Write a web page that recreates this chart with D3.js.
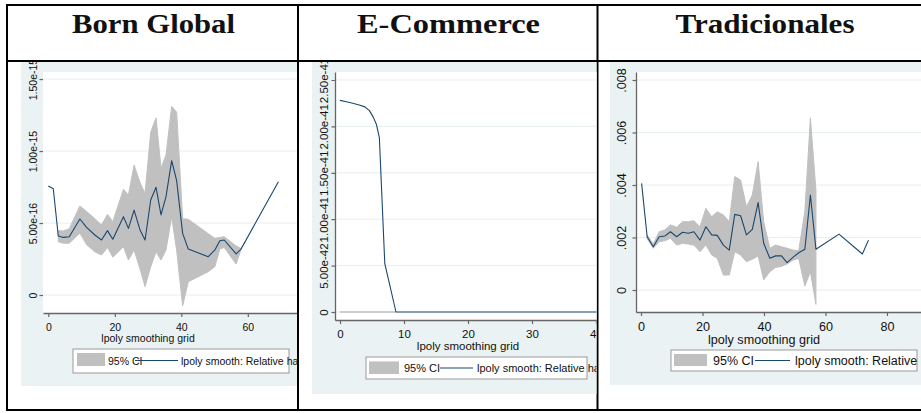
<!DOCTYPE html>
<html>
<head>
<meta charset="utf-8">
<script src="https://cdn.jsdelivr.net/npm/d3@7/dist/d3.min.js"></script>
<style>
  html, body { margin: 0; padding: 0; background: #fff; }
  svg { display: block; }
</style>
</head>
<body>
<svg id="chart" width="921" height="413"></svg>
<script>
// ---- Column headers ----
const headers = ["Born Global", "E-Commerce", "Tradicionales"];

// ---- Born Global: lpoly smooth (values in units of 1e-16) ----
const bgGrid = [0, 1.5, 3, 4.5, 6.3, 9.5, 11.5, 14, 16, 17.8, 19.4, 22.6, 24.1, 25.8, 27.6, 29.1,
                30.8, 32.4, 33.9, 35.4, 37.1, 38.6, 40.4, 42.1, 48.1, 50.1, 51.6, 52.9, 56.5, 57.9, 69.2];
const bgFit  = [7.57, 7.38, 4.1, 4.0, 4.05, 5.28, 4.7, 4.17, 3.82, 4.47, 3.87, 5.44, 4.63, 5.9, 4.51, 3.82,
                6.6, 7.48, 5.56, 6.83, 9.33, 7.94, 4.28, 3.19, 2.66, 3.13, 3.77, 3.82, 2.85, 3.17, 7.87];
const bgCiX  = [3, 4.5, 6.3, 9.5, 11.5, 14, 16, 17.8, 19.4, 22.6, 24.1, 25.8, 27.6, 29.1,
                30.8, 32.4, 33.9, 35.4, 37.1, 38.6, 40.4, 42.1, 48.1, 50.1, 51.6, 52.9, 56.5, 57.9];
const bgLo   = [3.7, 3.6, 3.6, 4.3, 3.5, 3.0, 2.78, 3.3, 2.62, 3.35, 2.43, 3.13, 1.8, 0.58,
                1.97, 3.0, 2.43, 3.13, 5.44, 3.1, -0.76, 0.92, 1.62, 1.97, 3.2, 3.3, 2.15, 3.13];
const bgHi   = [4.47, 4.45, 4.6, 6.18, 5.8, 5.3, 4.86, 5.6, 5.09, 7.34, 6.94, 9.03, 7.8, 7.06,
                11.3, 12.3, 8.8, 9.72, 13.1, 12.7, 5.3, 5.26, 4.26, 3.94, 4.0, 4.05, 3.4, 3.24];
const bgXTicks = [0, 20, 40, 60];
const bgYTicks = [0, 5, 10, 15];
const bgYLabels = ["0", "5.00e-16", "1.00e-15", "1.50e-15"];

// ---- E-Commerce: lpoly smooth (values in units of 1e-41) ----
const ecGrid = [0, 1, 2, 3, 3.9, 4.6, 5.2, 5.7, 6.15, 7.0, 8.75, 15, 20, 25, 30, 35, 40, 45];
const ecFit  = [2.28, 2.265, 2.25, 2.23, 2.21, 2.17, 2.10, 2.02, 1.88, 0.52, 0, 0, 0, 0, 0, 0, 0, 0];
const ecCiX  = [0, 8.75];
const ecLo   = [0, 0];
const ecHi   = [0, 0];
const ecXTicks = [0, 10, 20, 30, 40];
const ecYTicks = [0, 0.5, 1, 1.5, 2, 2.5];
const ecYLabels = ["0", "5.00e-42", "1.00e-41", "1.50e-41", "2.00e-41", "2.50e-41"];

// ---- Tradicionales: lpoly smooth (values in units of 1e-3) ----
const trGrid = [0.2, 2.0, 4.0, 5.9, 7.8, 9.6, 11.6, 13.5, 15.4, 17.2, 19.2, 21.1, 23.0, 24.8, 26.8, 28.7,
                30.5, 32.4, 34.3, 36.2, 38.1, 39.9, 41.9, 43.8, 45.7, 47.5, 49.5, 51.3, 53.3, 55.1, 56.9,
                64.4, 72, 74];
const trFit  = [4.06, 2.03, 1.65, 2.03, 2.06, 2.22, 2.03, 2.2, 2.16, 2.22, 1.9, 2.41, 2.1, 2.08, 1.71, 1.52,
                2.88, 2.83, 2.1, 2.31, 3.33, 1.78, 1.21, 1.3, 1.3, 1.04, 1.25, 1.42, 1.55, 3.62, 1.55,
                2.13, 1.37, 1.9];
const trCiX  = [2.0, 4.0, 5.9, 7.8, 9.6, 11.6, 13.5, 15.4, 17.2, 19.2, 21.1, 23.0, 24.8, 26.8, 28.7,
                30.5, 32.4, 34.3, 36.2, 38.1, 39.9, 41.9, 43.8, 45.7, 47.5, 49.5, 51.3, 53.3, 55.1, 56.9];
const trLo   = [1.95, 1.59, 1.84, 1.88, 1.97, 1.71, 1.78, 1.75, 1.71, 1.46, 1.71, 1.33, 1.21, 0.57, 0.57,
                1.46, 1.33, 1.08, 1.17, 1.3, 0.38, 0.7, 0.86, 0.9, 0.99, 1.14, 1.2, 0.15, 0.7, -0.55];
const trHi   = [2.1, 1.75, 2.22, 2.29, 2.48, 2.39, 2.6, 2.6, 2.64, 2.41, 3.11, 2.79, 2.98, 2.86, 2.6,
                4.32, 4.19, 3.17, 3.62, 4.89, 2.6, 1.59, 1.71, 1.65, 1.59, 1.52, 1.5, 3.0, 6.56, 3.8];
const trXTicks = [0, 20, 40, 60, 80];
const trYTicks = [0, 2, 4, 6, 8];
const trYLabels = ["0", ".002", ".004", ".006", ".008"];

// ---- Legend / axis texts ----
const xTitle = "lpoly smoothing grid";
const legendCi = "95% CI";
const legendFit = "lpoly smooth: Relative hazard";

// ---- Styles ----
const SANS = "'Liberation Sans', Arial, sans-serif";
const SERIF = "'Liberation Serif', 'Times New Roman', serif";
const BG = "#eaf2f3";
const GRID = "#e6eef0";
const BAND = "#c0c0c0";
const LINE = "#1a476f";
const AXIS = "#666";

const svg = d3.select("#chart");
const defs = svg.append("defs");

// ---- Table frame ----
const frame = svg.append("g").attr("stroke", "#000").attr("stroke-width", 2);
frame.append("line").attr("x1", 6).attr("x2", 921).attr("y1", 5).attr("y2", 5);
frame.append("line").attr("x1", 6).attr("x2", 921).attr("y1", 61).attr("y2", 61);
frame.append("line").attr("x1", 6).attr("x2", 921).attr("y1", 410).attr("y2", 410);
frame.append("line").attr("x1", 7).attr("x2", 7).attr("y1", 4).attr("y2", 411);
frame.append("line").attr("x1", 298).attr("x2", 298).attr("y1", 4).attr("y2", 411);
frame.append("line").attr("x1", 597.5).attr("x2", 597.5).attr("y1", 4).attr("y2", 411);

// ---- Headers ----
const headerPos = [{cx: 153.5, len: 163}, {cx: 448.5, len: 183}, {cx: 765, len: 179}];
headers.forEach((h, i) => {
  svg.append("text")
    .attr("x", headerPos[i].cx).attr("y", 33)
    .attr("text-anchor", "middle")
    .attr("font-family", SERIF).attr("font-weight", "bold").attr("font-size", 28)
    .attr("textLength", headerPos[i].len).attr("lengthAdjust", "spacingAndGlyphs")
    .attr("fill", "#111")
    .text(h);
});

function toPoints(xs, ys) { return xs.map((x, i) => ({x, y: ys[i]})); }
function toBand(xs, lo, hi) { return xs.map((x, i) => ({x, lo: lo[i], hi: hi[i]})); }

function drawPanel(cfg) {
  defs.append("clipPath").attr("id", cfg.id)
    .append("rect").attr("x", cfg.cell[0]).attr("y", cfg.cell[1])
    .attr("width", cfg.cell[2] - cfg.cell[0]).attr("height", cfg.cell[3] - cfg.cell[1]);
  const g = svg.append("g").attr("clip-path", `url(#${cfg.id})`);

  // graph region and plot region
  g.append("rect").attr("x", cfg.bg[0]).attr("y", cfg.bg[1])
    .attr("width", cfg.bg[2] - cfg.bg[0]).attr("height", cfg.bg[3] - cfg.bg[1]).attr("fill", BG);
  const p = cfg.plot;
  g.append("rect").attr("x", p.left).attr("y", p.top)
    .attr("width", p.right - p.left).attr("height", p.bottom - p.top).attr("fill", "#fff");

  const x = d3.scaleLinear().domain(cfg.xDomain).range([p.left, p.right]);
  const y = d3.scaleLinear().domain(cfg.yDomain).range([p.bottom, p.top]);

  // horizontal gridlines
  g.append("g").selectAll("line").data(cfg.yTicks).join("line")
    .attr("x1", p.left).attr("x2", p.right)
    .attr("y1", d => y(d)).attr("y2", d => y(d))
    .attr("stroke", GRID).attr("stroke-width", 1);

  // confidence band
  const band = toBand(cfg.ciX, cfg.lo, cfg.hi);
  g.append("path").datum(band)
    .attr("d", d3.area().x(d => x(d.x)).y0(d => y(d.lo)).y1(d => y(d.hi)))
    .attr("fill", BAND).attr("stroke", BAND).attr("stroke-width", 1);

  // smooth line
  g.append("path").datum(toPoints(cfg.grid, cfg.fit))
    .attr("d", d3.line().x(d => x(d.x)).y(d => y(d.y)))
    .attr("fill", "none").attr("stroke", LINE).attr("stroke-width", 1.1)
    .attr("stroke-linejoin", "round");

  // x axis
  const xa = g.append("g").attr("transform", `translate(0,${p.bottom})`)
    .call(d3.axisBottom(x).tickValues(cfg.xTicks).tickFormat(d3.format("d")).tickSize(4).tickSizeOuter(0));
  xa.select(".domain").attr("stroke", AXIS).attr("stroke-width", 1.3);
  xa.selectAll(".tick line").attr("stroke", AXIS).attr("stroke-width", 1.2);
  xa.selectAll(".tick text").attr("y", cfg.xLabelOffset).attr("dy", null)
    .attr("font-family", SANS).attr("font-size", cfg.font).attr("fill", "#111");

  // y axis
  const ya = g.append("g").attr("transform", `translate(${p.left},0)`)
    .call(d3.axisLeft(y).tickValues(cfg.yTicks).tickFormat((d, i) => cfg.yLabels[i]).tickSize(3.5).tickSizeOuter(0));
  ya.select(".domain").attr("stroke", cfg.yLine ? AXIS : "none").attr("stroke-width", 1.3);
  ya.selectAll(".tick line").attr("stroke", AXIS).attr("stroke-width", 1.2);
  ya.selectAll(".tick text")
    .attr("transform", "rotate(-90)")
    .attr("x", 0).attr("y", -cfg.yLabelGap).attr("dy", null)
    .attr("text-anchor", "middle")
    .attr("font-family", SANS).attr("font-size", cfg.font).attr("fill", "#111");

  // x axis title
  g.append("text").attr("x", (x(cfg.xTicks[0]) + x(cfg.xTicks[cfg.xTicks.length - 1])) / 2)
    .attr("y", cfg.titleY).attr("text-anchor", "middle")
    .attr("font-family", SANS).attr("font-size", cfg.font).attr("fill", "#111")
    .text(xTitle);

  // legend
  const L = cfg.legend;
  g.append("rect").attr("x", L.box[0]).attr("y", L.box[1])
    .attr("width", L.box[2] - L.box[0]).attr("height", L.box[3] - L.box[1])
    .attr("fill", "#fff").attr("stroke", "#9a9a9a").attr("stroke-width", 1);
  g.append("rect").attr("x", L.swatch[0]).attr("y", L.swatch[1])
    .attr("width", L.swatch[2] - L.swatch[0]).attr("height", L.swatch[3] - L.swatch[1])
    .attr("fill", BAND);
  g.append("text").attr("x", L.ciText).attr("y", L.baseline)
    .attr("font-family", SANS).attr("font-size", L.font).attr("fill", "#111").text(legendCi);
  g.append("line").attr("x1", L.line[0]).attr("x2", L.line[1])
    .attr("y1", L.lineY).attr("y2", L.lineY).attr("stroke", LINE).attr("stroke-width", 1.1);
  g.append("text").attr("x", L.fitText).attr("y", L.baseline)
    .attr("font-family", SANS).attr("font-size", L.font).attr("fill", "#111").text(legendFit);
}

drawPanel({
  id: "clipBG", cell: [8, 62, 297, 409], bg: [21, 62, 310, 386],
  plot: {left: 43, top: 72, right: 305, bottom: 313},
  xDomain: [-1.594, 77.2], yDomain: [-1.25, 15.49],
  grid: bgGrid, fit: bgFit, ciX: bgCiX, lo: bgLo, hi: bgHi,
  xTicks: bgXTicks, yTicks: bgYTicks, yLabels: bgYLabels, yLine: false,
  font: 10.5, xLabelOffset: 17.5, yLabelGap: 6, titleY: 341.5,
  legend: {box: [73, 349, 289, 373], swatch: [77, 353, 105, 366], ciText: 108, line: [135, 178], lineY: 360.5,
           fitText: 181, baseline: 364.5, font: 10.5}
});

drawPanel({
  id: "clipEC", cell: [299, 62, 596.5, 409], bg: [312, 62, 600, 394],
  plot: {left: 335, top: 72, right: 600, bottom: 320},
  xDomain: [-0.78, 40.625], yDomain: [-0.0862, 2.586],
  grid: ecGrid, fit: ecFit, ciX: ecCiX, lo: ecLo, hi: ecHi,
  xTicks: ecXTicks, yTicks: ecYTicks, yLabels: ecYLabels, yLine: true,
  font: 11.5, xLabelOffset: 17.8, yLabelGap: 7, titleY: 349.5,
  legend: {box: [366, 357, 587, 379], swatch: [369, 361.5, 399, 374], ciText: 404, line: [440, 473], lineY: 368,
           fitText: 477, baseline: 372, font: 11}
});

drawPanel({
  id: "clipTR", cell: [599, 62, 921, 409], bg: [610, 62, 930, 385],
  plot: {left: 636, top: 72, right: 930, bottom: 312},
  xDomain: [-1.626, 94], yDomain: [-0.838, 8.305],
  grid: trGrid, fit: trFit, ciX: trCiX, lo: trLo, hi: trHi,
  xTicks: trXTicks, yTicks: trYTicks, yLabels: trYLabels, yLine: true,
  font: 12.6, xLabelOffset: 18.6, yLabelGap: 10, titleY: 343.5,
  legend: {box: [671, 350, 917, 371], swatch: [674, 354, 707, 366], ciText: 713, line: [755, 790], lineY: 360.5,
           fitText: 795, baseline: 365, font: 12.5}
});
</script>
</body>
</html>
